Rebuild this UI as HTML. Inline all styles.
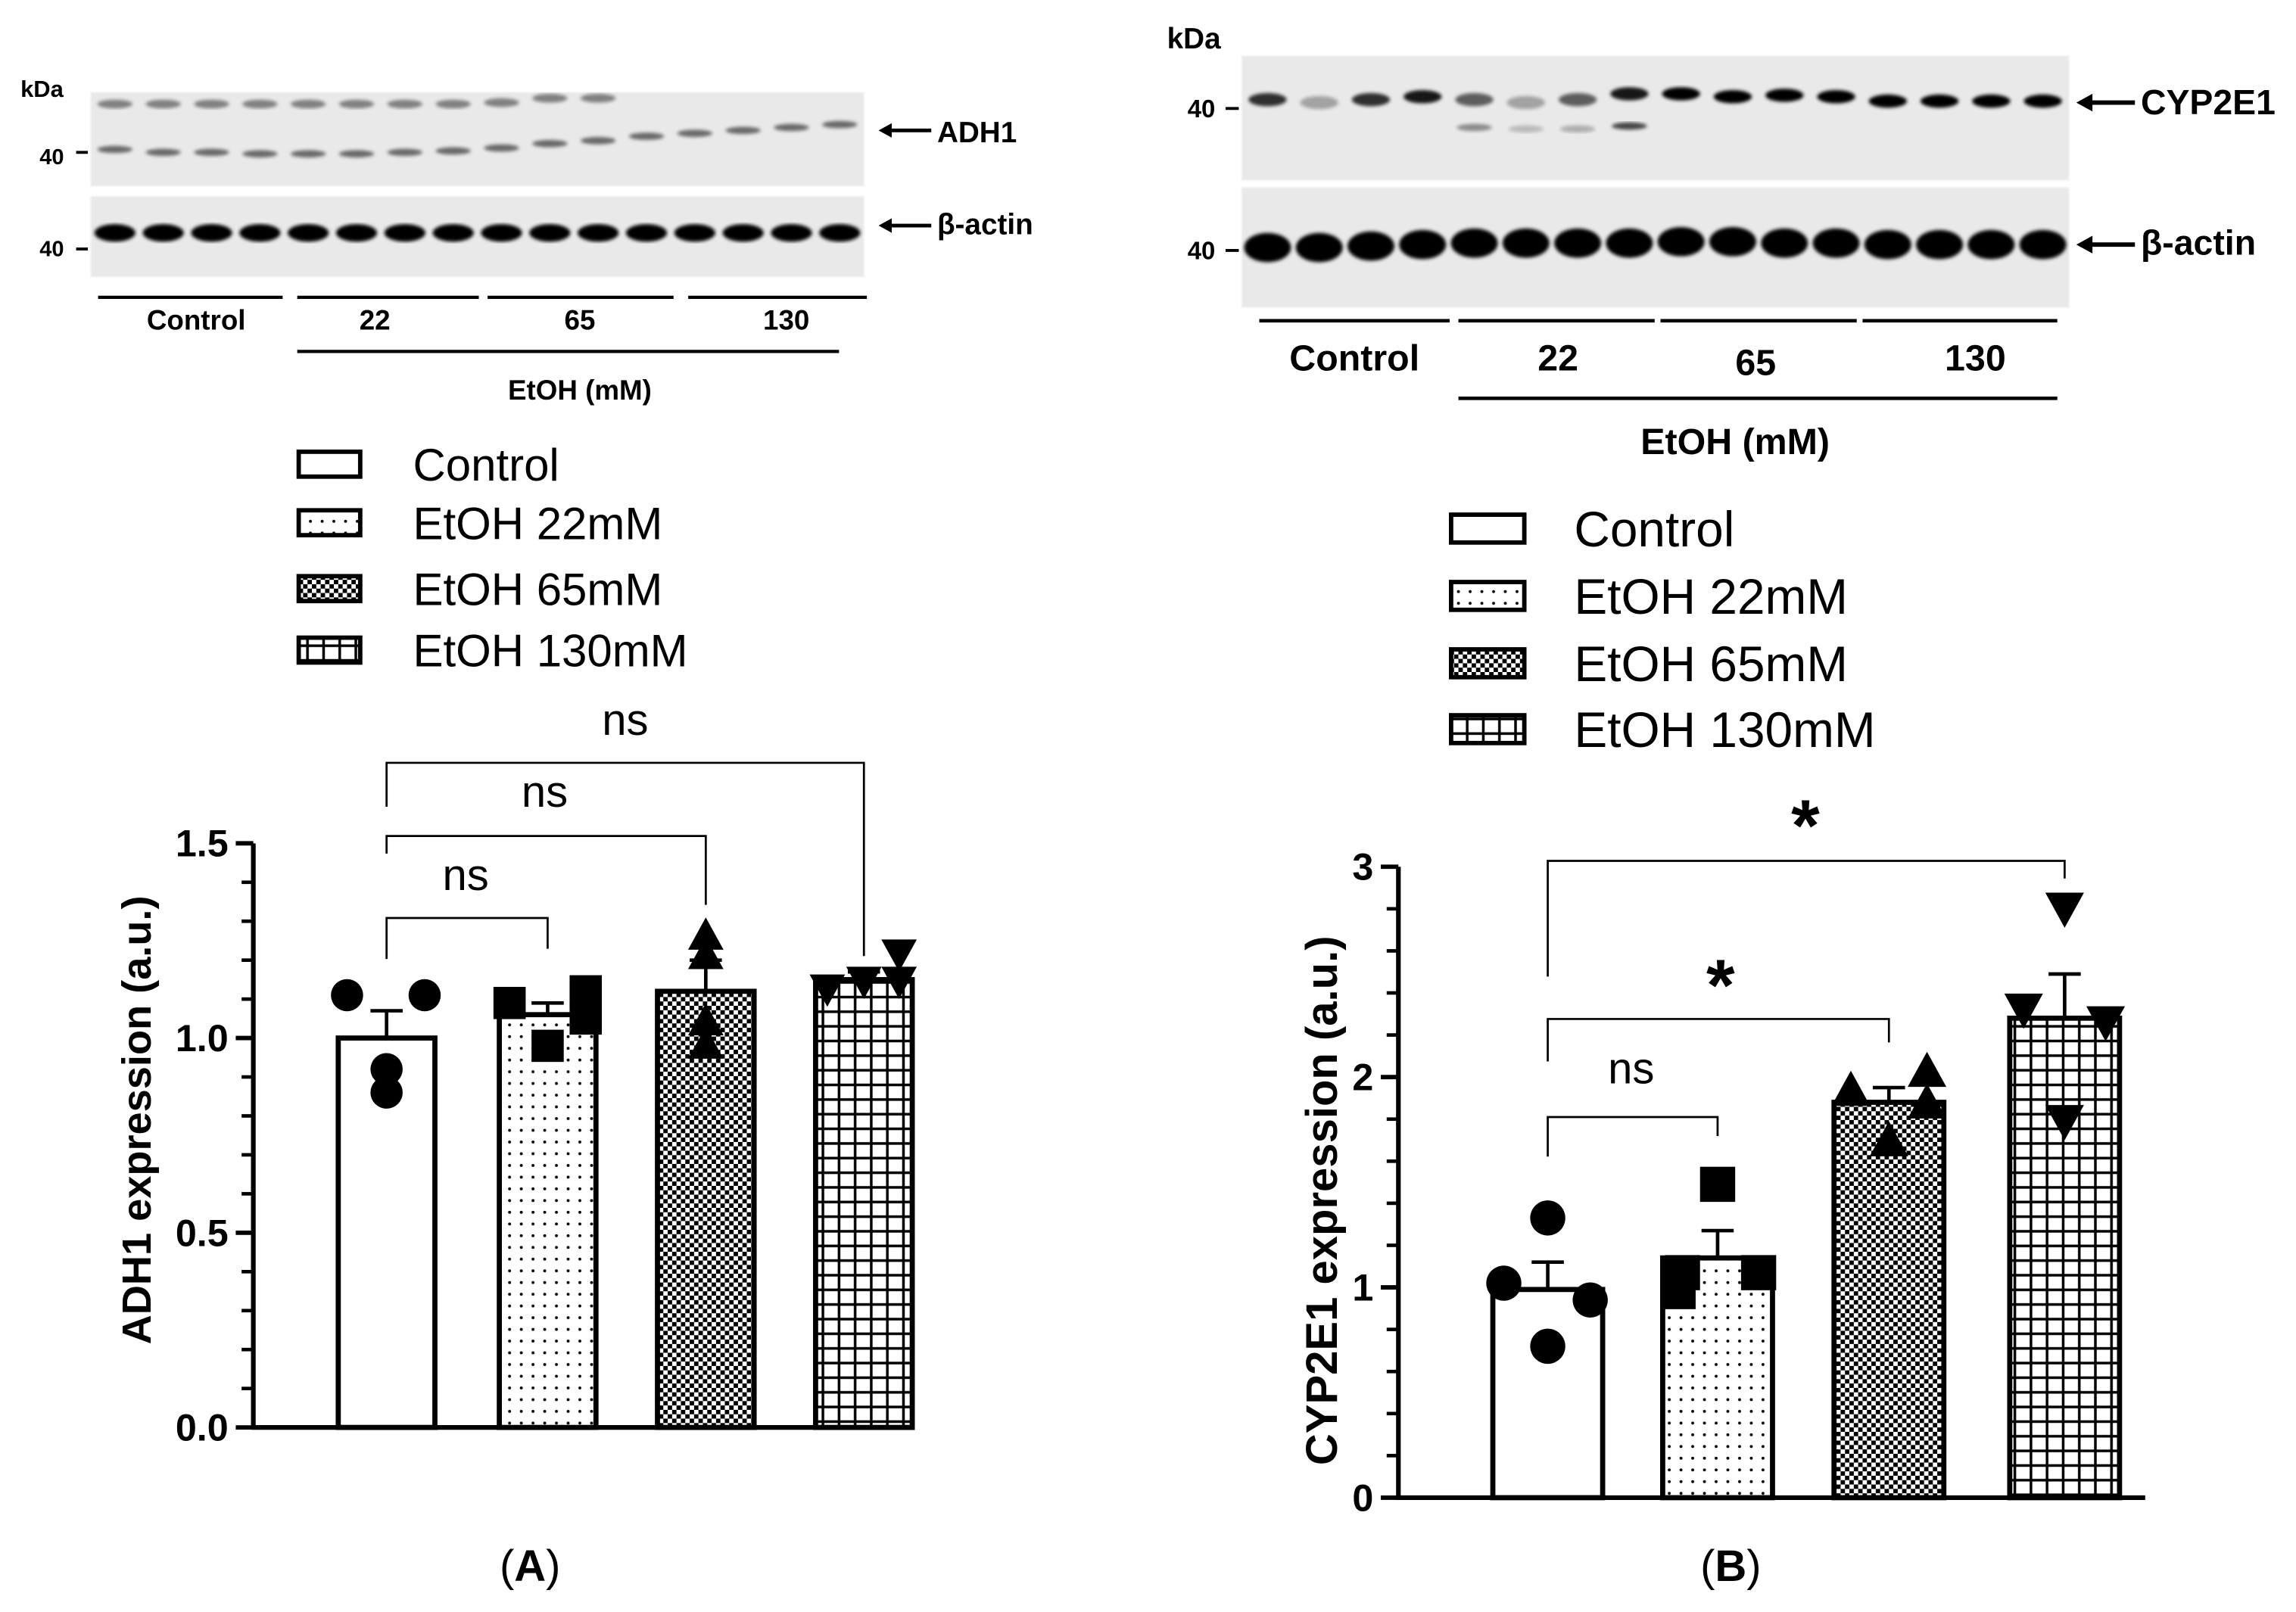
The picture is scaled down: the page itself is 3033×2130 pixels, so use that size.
<!DOCTYPE html>
<html><head><meta charset="utf-8"><style>
html,body{margin:0;padding:0;background:#fff}
svg{display:block}
text{font-family:"Liberation Sans",sans-serif}
</style></head><body>
<svg id="fig" width="3033" height="2130" viewBox="0 0 1568 1101" xmlns="http://www.w3.org/2000/svg">
<defs>
<pattern id="pDots" width="8" height="8" patternUnits="userSpaceOnUse"><rect width="8" height="8" fill="#fff"/><circle cx="4" cy="4" r="1" fill="#000"/></pattern>
<pattern id="pCheck" width="6" height="6" patternUnits="userSpaceOnUse"><rect width="6" height="6" fill="#fff"/><rect width="3" height="3" fill="#000"/><rect x="3" y="3" width="3" height="3" fill="#000"/></pattern>
<pattern id="pGrid" width="11" height="10" patternUnits="userSpaceOnUse"><rect width="11" height="10" fill="#fff"/><path d="M0 1H11M1 0V10" stroke="#000" stroke-width="1.8" fill="none"/></pattern>
<filter id="blur"><feGaussianBlur stdDeviation="1.2"/></filter>
</defs>
<g id="root"></g>
</svg>
<script>
// ---- Chart data ----
const groups = ["Control","EtOH 22mM","EtOH 65mM","EtOH 130mM"];
const adhMeans = [1.00, 1.06, 1.12, 1.15];
const adhErr = [1.07, 1.09, 1.20, 1.17];
const adhPts = [[1.11,1.11,0.92,0.86],[1.09,1.12,1.05,0.98],[1.26,1.21,1.04,0.98],[1.13,1.15,1.22,1.15]];
const adhTicks = ["0.0","0.5","1.0","1.5"];
const adhSig = ["ns","ns","ns"];
const cypMeans = [0.99, 1.14, 1.88, 2.28];
const cypErr = [1.12, 1.27, 1.95, 2.49];
const cypPts = [[1.33,1.02,0.94,0.72],[1.49,1.07,1.07,0.98],[2.02,1.93,1.87,1.69],[2.81,2.33,2.27,1.80]];
const cypTicks = ["0","1","2","3"];
const cypSig = ["ns","*","*"];

const NS = "http://www.w3.org/2000/svg";
const root = document.getElementById("root");
function el(tag, attrs, parent, txt){
  const e = document.createElementNS(NS, tag);
  for (const k in attrs) e.setAttribute(k, attrs[k]);
  if (txt !== undefined) e.textContent = txt;
  (parent || root).appendChild(e);
  return e;
}
const fills = ["#fff","url(#pDots)","url(#pCheck)","url(#pGrid)"];
const markers = ["circle","square","up","down"];

function marker(g, type, x, y, s){
  let m;
  if (type === "circle") m = el("circle",{cx:x,cy:y,r:s,fill:"#000"},g);
  else if (type === "square") m = el("rect",{x:x-s,y:y-s,width:2*s,height:2*s,fill:"#000"},g);
  else if (type === "up") m = el("polygon",{points:`${x},${y-s*1.2} ${x-s*1.1},${y+s*0.8} ${x+s*1.1},${y+s*0.8}`,fill:"#000"},g);
  else m = el("polygon",{points:`${x},${y+s*1.2} ${x-s*1.1},${y-s*0.8} ${x+s*1.1},${y-s*0.8}`,fill:"#000"},g);
  
  
}

function chart(cfg){
  const g = el("g",{});
  
  
  const y = v => cfg.y0 - v / cfg.max * (cfg.y0 - cfg.yTop);
  const ax = el("path",{d:`M${cfg.ax} ${cfg.yTop}V${cfg.y0}H${cfg.axEnd}`,stroke:"#000","stroke-width":3.2,fill:"none"},g);
  
  
  for (let v = 0; v <= cfg.max + 1e-9; v += cfg.minor) {
    const major = Math.abs(v / cfg.majorStep - Math.round(v / cfg.majorStep)) < 1e-6;
    const t = el("line",{x1:cfg.ax - (major?12:8),x2:cfg.ax,y1:y(v),y2:y(v),stroke:"#000","stroke-width":major?3:2.4},g);
    
    
  }
  cfg.ticks.forEach(lbl => {
    const t = el("text",{x:cfg.ax-17,y:y(parseFloat(lbl))+9,"text-anchor":"end","font-size":26,"font-weight":"bold"},g,lbl);
    
    
  });
  const yl = el("text",{transform:`translate(${cfg.ylx},${cfg.yly}) rotate(-90)`,"text-anchor":"middle","font-size":cfg.ylSize,"font-weight":"bold"},g,cfg.ylabel);
  
  
  cfg.means.forEach((m, i) => {
    const cx = cfg.centers[i], w = cfg.bw;
    const b = el("rect",{x:cx-w/2,y:y(m),width:w,height:cfg.y0-y(m),fill:fills[i],stroke:"#000","stroke-width":3.5},g);
    
    
    const e = el("path",{d:`M${cx} ${y(m)}V${y(cfg.err[i])}M${cx-11} ${y(cfg.err[i])}H${cx+11}`,stroke:"#000","stroke-width":2.4,fill:"none"},g);
    
    
    cfg.pts[i].forEach((p, j) => {
      marker(g, markers[i], cx + cfg.jitter[i][j], y(p), cfg.ms);
    });
  });
  cfg.brackets.forEach((br, k) => {
    const x1 = cfg.centers[0], x2 = cfg.centers[br.to];
    const p = el("path",{d:`M${x1} ${br.l}V${br.top}H${x2}V${br.r}`,stroke:"#000","stroke-width":1.4,fill:"none"},g);
    
    
    const lab = cfg.sig[k];
    const star = lab === "*";
    const t = el("text",{x:br.tx,y:br.ty,"text-anchor":"middle","font-size":star?50:30,"font-weight":star?"bold":"normal"},g,lab);
    
    
  });
}

chart({name:"adh1-chart",ax:173,axEnd:610,yTop:576,y0:975,max:1.5,minor:0.1,majorStep:0.5,ticks:adhTicks,
  ylabel:"ADH1 expression (a.u.)",ylx:103,yly:765,ylSize:28,means:adhMeans,err:adhErr,pts:adhPts,sig:adhSig,
  centers:[264,374,482,590],bw:66,ms:11,
  jitter:[[-27,26,0,0],[-26,26,26,0],[0,0,0,0],[-25,0,24,24]],
  brackets:[{to:1,top:627,l:655,r:648,ty:608,tx:318},{to:2,top:571,l:583,r:618,ty:551,tx:372},{to:3,top:521,l:551,r:653,ty:502,tx:427}]});
chart({name:"cyp2e1-chart",ax:955,axEnd:1465,yTop:592,y0:1023,max:3,minor:0.2,majorStep:1,ticks:cypTicks,
  ylabel:"CYP2E1 expression (a.u.)",ylx:913,yly:820,ylSize:30,means:cypMeans,err:cypErr,pts:cypPts,sig:cypSig,
  centers:[1057,1173,1290,1410],bw:75,ms:12,
  jitter:[[0,-30,29,0],[0,-24,28,-27],[26,-26,26,0],[0,-28,28,0]],
  brackets:[{to:1,top:763,l:790,r:776,ty:740,tx:1114},{to:2,top:696,l:725,r:712,ty:690,tx:1175},{to:3,top:588,l:667,r:600,ty:581,tx:1233}]});

function legend(x, tx, ys, bw, bh, fs, name){
  const g = el("g",{});
  
  
  groups.forEach((lab, i) => {
    const r = el("rect",{x:x,y:ys[i]-bh/2,width:bw,height:bh,fill:fills[i],stroke:"#000","stroke-width":3},g);
    
    
    const t = el("text",{x:tx,y:ys[i]+fs*0.36,"font-size":fs},g,lab);
    
    
  });
}
legend(204, 282, [317,357,402,444], 42, 17, 31, "legend-a");
legend(991, 1075, [361,407,453,498], 50, 19, 34, "legend-b");

function blot(x, yTop, w, h, name){
  const r = el("rect",{x:x,y:yTop,width:w,height:h,fill:"#e9e9e9",stroke:"#f4f4f4","stroke-width":1});
  
  
}
function bands(x0, lw, ys, rx, ry, op, name){
  const g = el("g",{filter:"url(#blur)"});
  
  
  ys.forEach((yy, i) => { if (yy) el("ellipse",{cx:x0+lw*(i+0.5),cy:yy,rx:rx,ry:ry,fill:"#000","fill-opacity":Array.isArray(op)?op[i]:op},g); });
}
blot(62,63,528,64,"adh1-blot");
blot(62,134,528,55,"actin-blot-a");
bands(62,33,[71,71,71,71,71,71,71,71,70,67,67,0,0,0,0,0],12,3,0.45,"adh1-upper-bands");
bands(62,33,[102,104,104,105,105,105,104,103,101,98,96,93,91,89,87,85],12,2.5,0.55,"adh1-bands");
bands(62,33,Array(16).fill(159),14,6,1,"actin-bands-a");
blot(848,38,565,85,"cyp2e1-blot");
blot(848,128,565,82,"actin-blot-b");
bands(848,35.3,[68,70,68,66,68,70,68,64,64,66,65,66,69,69,69,69],13,4.5,[0.8,0.3,0.8,0.9,0.6,0.3,0.6,0.9,1,1,1,1,1,1,1,1],"cyp2e1-bands");
bands(848,35.3,[0,0,0,0,87,88,88,86,0,0,0,0,0,0,0,0],12,2.5,[0,0,0,0,0.4,0.2,0.25,0.7],"cyp2e1-lower-bands");
bands(848,35.3,[169,169,168,167,166,166,166,166,165,165,166,166,167,167,167,167],16,10,1,"actin-bands-b");

const labs = [
 [14,66,"kDa",16,"start","bold","kda-label-a"],[27,112,"40",15,"start","bold","mw-40-a1"],[27,175,"40",15,"start","bold","mw-40-a2"],
 [640,97,"ADH1",20,"start","bold","adh1-label"],[640,160,"β-actin",20,"start","bold","actin-label-a"],
 [134,225,"Control",19,"middle","bold","group-control-a"],[256,225,"22",19,"middle","bold","group-22-a"],
 [396,225,"65",19,"middle","bold","group-65-a"],[537,225,"130",19,"middle","bold","group-130-a"],
 [396,273,"EtOH (mM)",19,"middle","bold","etoh-label-a"],
 [797,33,"kDa",20,"start","bold","kda-label-b"],[811,80,"40",17,"start","bold","mw-40-b1"],[811,177,"40",17,"start","bold","mw-40-b2"],
 [1462,78,"CYP2E1",24,"start","bold","cyp2e1-label"],[1462,174,"β-actin",24,"start","bold","actin-label-b"],
 [925,253,"Control",25,"middle","bold","group-control-b"],[1064,253,"22",25,"middle","bold","group-22-b"],
 [1199,256,"65",25,"middle","bold","group-65-b"],[1349,253,"130",25,"middle","bold","group-130-b"],
 [1185,310,"EtOH (mM)",25,"middle","bold","etoh-label-b"]
];
labs.forEach(l => {
  const t = el("text",{x:l[0],y:l[1],"font-size":l[3],"text-anchor":l[4],"font-weight":l[5]},root,l[2]);
  
  
});
const lines = [
 [52,104,60,104,2],[52,170,60,170,2],[837,74,846,74,2],[837,171,846,171,2],
 [67,203,193,203,2.2],[203,203,327,203,2.2],[333,203,460,203,2.2],[470,203,592,203,2.2],[203,240,573,240,2.2],
 [860,219,990,219,2.4],[996,219,1130,219,2.4],[1134,219,1268,219,2.4],[1272,219,1405,219,2.4],[996,272,1405,272,2.4],
 [608,89,636,89,2.5],[608,154,636,154,2.5],[1425,70,1458,70,3],[1425,167,1458,167,3]
];
lines.forEach(a => {
  const l = el("line",{x1:a[0],y1:a[1],x2:a[2],y2:a[3],stroke:"#000","stroke-width":a[4]});
  
  
});
[[600,89,9],[600,154,9],[1418,70,11],[1418,167,11]].forEach(a => {
  const p = el("polygon",{points:`${a[0]},${a[1]} ${a[0]+a[2]},${a[1]-a[2]*0.55} ${a[0]+a[2]},${a[1]+a[2]*0.55}`,fill:"#000"});
  
  
});
[[362,1080,"(A)","panel-label-a"],[1182,1080,"(B)","panel-label-b"]].forEach(a => {
  const t = el("text",{x:a[0],y:a[1],"text-anchor":"middle","font-size":30,"font-family":"Liberation Serif, serif"},root,"");
  
  
  el("tspan",{},t,"(");
  el("tspan",{"font-weight":"bold"},t,a[2][1]);
  el("tspan",{},t,")");
});
</script>
</body></html>
